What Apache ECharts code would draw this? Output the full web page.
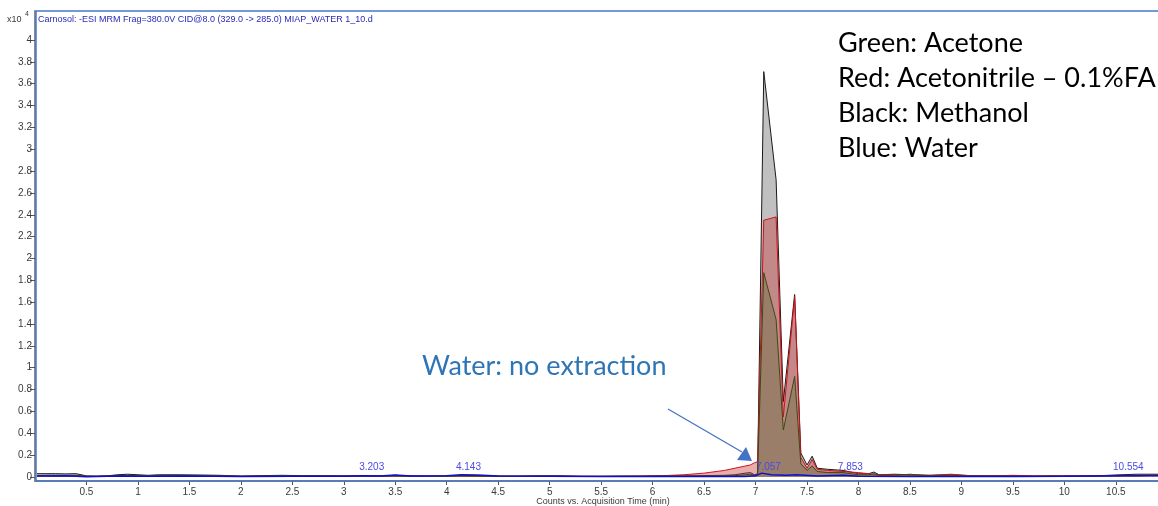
<!DOCTYPE html>
<html>
<head>
<meta charset="utf-8">
<script src="https://cdn.jsdelivr.net/npm/echarts@6/dist/echarts.min.js"></script>
<style>
  html, body { margin: 0; padding: 0; background: #ffffff; }
  #chart { width: 1158px; height: 506px; }
</style>
</head>
<body>
<div id="chart"></div>
<script>
// Retention times (min) shared by the three solvent extracts
const times = [
  0.02, 0.1, 0.2, 0.3, 0.4, 0.5, 0.6, 0.7, 0.8, 0.9, 1.0, 1.1, 1.2, 1.4, 1.6, 1.8,
  2.0, 2.2, 2.4, 2.6, 2.8, 3.0, 3.2, 3.4, 3.5, 3.6, 3.8, 4.0, 4.14, 4.3, 4.5, 4.7,
  4.9, 5.1, 5.3, 5.5, 5.7, 5.9, 6.1, 6.3, 6.5, 6.7, 6.8, 6.9, 6.95, 6.99, 7.02,
  7.08, 7.20, 7.27, 7.38, 7.44, 7.50, 7.55, 7.60, 7.7, 7.85, 8.0, 8.1, 8.15, 8.2,
  8.35, 8.5, 8.7, 8.9, 9.1, 9.3, 9.5, 9.7, 9.9, 10.1, 10.3, 10.55, 10.7, 10.91
];

// Counts (x10^4) per extract
const methanol = [
  0.03, 0.03, 0.03, 0.028, 0.03, 0.01, 0.008, 0.01, 0.02, 0.025, 0.02, 0.015, 0.02, 0.02, 0.018, 0.015,
  0.008, 0.012, 0.015, 0.012, 0.012, 0.01, 0.012, 0.01, 0.015, 0.01, 0.008, 0.01, 0.015, 0.012, 0.008, 0.008,
  0.01, 0.01, 0.006, 0.006, 0.008, 0.008, 0.01, 0.01, 0.012, 0.015, 0.02, 0.035, 0.04, 0.02, 0.03,
  3.71, 2.72, 0.69, 1.67, 0.22, 0.11, 0.19, 0.08, 0.07, 0.06, 0.03, 0.03, 0.045, 0.02,
  0.025, 0.02, 0.015, 0.02, 0.012, 0.01, 0.01, 0.008, 0.01, 0.008, 0.01, 0.02, 0.025, 0.025
];
const acetonitrile = [
  0.008, 0.008, 0.008, 0.008, 0.008, 0.005, 0.005, 0.006, 0.008, 0.008, 0.008, 0.008, 0.008, 0.008, 0.008, 0.008,
  0.006, 0.006, 0.006, 0.006, 0.006, 0.006, 0.008, 0.006, 0.006, 0.006, 0.006, 0.006, 0.008, 0.006, 0.006, 0.006,
  0.006, 0.006, 0.006, 0.006, 0.006, 0.008, 0.012, 0.02, 0.035, 0.06, 0.08, 0.1, 0.11, 0.13, 0.14,
  2.35, 2.38, 0.55, 1.65, 0.18, 0.08, 0.16, 0.07, 0.06, 0.05, 0.04, 0.03, 0.02, 0.02,
  0.02, 0.015, 0.015, 0.025, 0.01, 0.01, 0.015, 0.01, 0.01, 0.01, 0.01, 0.015, 0.015, 0.015
];
const acetone = [
  0.012, 0.015, 0.015, 0.015, 0.015, 0.006, 0.005, 0.008, 0.012, 0.015, 0.012, 0.01, 0.012, 0.012, 0.01, 0.01,
  0.006, 0.008, 0.01, 0.008, 0.008, 0.008, 0.01, 0.008, 0.01, 0.008, 0.006, 0.008, 0.01, 0.008, 0.006, 0.006,
  0.008, 0.008, 0.005, 0.005, 0.006, 0.006, 0.008, 0.008, 0.008, 0.01, 0.012, 0.02, 0.025, 0.015, 0.02,
  1.87, 1.44, 0.43, 0.92, 0.12, 0.06, 0.10, 0.05, 0.04, 0.04, 0.02, 0.02, 0.03, 0.015,
  0.015, 0.025, 0.01, 0.015, 0.008, 0.008, 0.008, 0.006, 0.008, 0.006, 0.008, 0.012, 0.015, 0.015
];

// Water extract trace
const waterTimes = [
  0.02, 0.3, 0.5, 0.8, 1.0, 1.5, 2.0, 2.5, 3.0, 3.2, 3.35, 3.5, 3.65, 4.0, 4.14, 4.3,
  4.5, 5.0, 5.5, 6.0, 6.5, 6.9, 7.0, 7.06, 7.15, 7.3, 7.4, 7.6, 7.85, 8.0, 8.5, 9.0,
  9.5, 10.0, 10.55, 10.91
];
const water = [
  0.008, 0.01, 0.003, 0.008, 0.006, 0.008, 0.005, 0.006, 0.006, 0.012, 0.008, 0.018, 0.008, 0.01, 0.02, 0.018,
  0.008, 0.006, 0.004, 0.005, 0.004, 0.005, 0.01, 0.035, 0.02, 0.015, 0.02, 0.008, 0.015, 0.006, 0.005, 0.004,
  0.004, 0.006, 0.012, 0.01
];

// Peak apex times annotated on the water trace
const peakTimes = [3.203, 4.143, 7.057, 7.853, 10.554];

// Axis tick values
const xTicks = [0.5, 1, 1.5, 2, 2.5, 3, 3.5, 4, 4.5, 5, 5.5, 6, 6.5, 7, 7.5, 8, 8.5, 9, 9.5, 10, 10.5];
const yTicks = [0, 0.2, 0.4, 0.6, 0.8, 1, 1.2, 1.4, 1.6, 1.8, 2, 2.2, 2.4, 2.6, 2.8, 3, 3.2, 3.4, 3.6, 3.8, 4];

const legendLines = ['Green: Acetone', 'Red: Acetonitrile \u2013 0.1%FA', 'Black: Methanol', 'Blue: Water'];

const pairs = (xs, ys) => xs.map((x, i) => [x, ys[i]]);

const chart = echarts.init(document.getElementById('chart'), null, { renderer: 'canvas' });

const axisFont = { fontFamily: 'Liberation Sans, Arial, sans-serif', fontSize: 10, color: '#3a3a3a' };

chart.setOption({
  animation: false,
  backgroundColor: '#ffffff',
  grid: { left: 35, top: 11, right: 0, bottom: 25, containLabel: false, outerBoundsMode: 'none' },
  xAxis: {
    type: 'value',
    min: 0,
    max: 10.91,
    axisLine: { show: true, onZero: false, lineStyle: { color: '#8a8a8a', width: 2 } },
    axisTick: { show: true, customValues: xTicks, length: 4, lineStyle: { color: '#555555' } },
    axisLabel: { customValues: xTicks, margin: 6, ...axisFont, formatter: v => String(v) },
    splitLine: { show: false }
  },
  yAxis: {
    type: 'value',
    min: -0.037,
    max: 4.265,
    axisLine: { show: true, onZero: false, lineStyle: { color: '#8a8a8a', width: 2 } },
    axisTick: { show: true, customValues: yTicks, length: 5, lineStyle: { color: '#555555' } },
    axisLabel: { customValues: yTicks, margin: 3, ...axisFont, formatter: v => String(v) },
    splitLine: { show: false }
  },
  series: [
    {
      name: 'Methanol',
      type: 'line',
      data: pairs(times, methanol),
      symbol: 'none',
      lineStyle: { color: '#1a1a1a', width: 1 },
      areaStyle: { color: 'rgb(192,192,192)', opacity: 1 },
      z: 2
    },
    {
      name: 'Acetonitrile',
      type: 'line',
      data: pairs(times, acetonitrile),
      symbol: 'none',
      lineStyle: { color: '#d0101a', width: 1 },
      areaStyle: { color: 'rgba(200,60,60,0.42)', opacity: 1 },
      z: 3
    },
    {
      name: 'Acetone',
      type: 'line',
      data: pairs(times, acetone),
      symbol: 'none',
      lineStyle: { color: '#3d4a14', width: 1 },
      areaStyle: { color: 'rgba(101,113,63,0.42)', opacity: 1 },
      z: 4
    },
    {
      name: 'Water',
      type: 'line',
      data: pairs(waterTimes, water),
      symbol: 'none',
      lineStyle: { color: '#1010c8', width: 1.5 },
      z: 5,
      markPoint: {
        symbol: 'circle',
        symbolSize: 0,
        label: {
          show: true,
          position: 'top',
          distance: 1,
          offset: [7, 0],
          fontFamily: 'Liberation Sans, Arial, sans-serif',
          fontSize: 10,
          color: '#4a4ae6',
          formatter: p => p.name
        },
        data: peakTimes.map(t => ({ name: t.toFixed(3), coord: [t, 0.03] }))
      }
    }
  ],
  graphic: [
    // plot frame
    { type: 'rect', shape: { x: 36, y: 11, width: 1124, height: 470 }, style: { fill: 'none', stroke: '#4a78c8', lineWidth: 1.5 }, z: 10, silent: true },
    // x-axis title
    { type: 'text', x: 603, y: 497, style: { text: 'Counts vs. Acquisition Time (min)', font: '9px Liberation Sans, Arial, sans-serif', fill: '#3a3a3a', align: 'center', verticalAlign: 'top' }, z: 11 },
    // axis multiplier
    { type: 'text', left: 7, top: 15, style: { text: 'x10', font: '9px Liberation Sans, Arial, sans-serif', fill: '#3a3a3a' }, z: 11 },
    { type: 'text', left: 25, top: 11, style: { text: '4', font: '7px Liberation Sans, Arial, sans-serif', fill: '#3a3a3a' }, z: 11 },
    // trace description
    { type: 'text', left: 38, top: 15, style: { text: 'Carnosol: -ESI MRM Frag=380.0V CID@8.0 (329.0 -> 285.0) MIAP_WATER 1_10.d', font: '9px Liberation Sans, Arial, sans-serif', fill: '#2a2ab8' }, z: 11 },
    // solvent key
    ...legendLines.map((t, i) => ({
      type: 'text', left: 838, top: 30 + i * 35,
      style: { text: t, font: '27px Lato, sans-serif', fill: '#000000' }, z: 11
    })),
    // callout
    { type: 'text', left: 422, top: 353, style: { text: 'Water: no extraction', font: '27px Lato, sans-serif', fill: '#2e75b6' }, z: 11 },
    { type: 'line', shape: { x1: 668, y1: 409, x2: 742, y2: 452 }, style: { stroke: '#4472c4', lineWidth: 1.3 }, z: 11 },
    { type: 'polygon', shape: { points: [[752, 461], [737, 460], [746, 447]] }, style: { fill: '#4472c4' }, z: 11 }
  ]
});
</script>
</body>
</html>
